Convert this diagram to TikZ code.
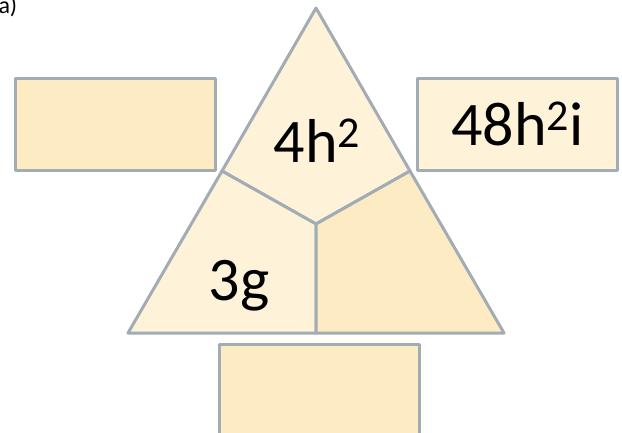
\documentclass[tikz,border=0pt]{standalone}
\usepackage{fontspec}
\setmainfont{Carlito}
\definecolor{edgegray}{HTML}{A2ACB4}
\definecolor{palefill}{HTML}{FEF2D8}
\definecolor{deepfill}{HTML}{FDEBC3}
\newcommand{\sqtwo}{\raisebox{15pt}{\fontsize{44}{44}\selectfont 2}}
\begin{document}
\begin{tikzpicture}[x=1pt, y=-1pt, line width=3pt, line join=round,
  box node/.style={rectangle,draw=edgegray,minimum width=200pt,minimum height=92pt,inner sep=0pt},
  sector/.style={draw=edgegray}]
\useasboundingbox (0,0) rectangle (622,432);
% triangle corners and inner points
\coordinate (top) at (316,8);
\coordinate (bl) at (128,333);
\coordinate (br) at (504,333);
\coordinate (ml) at (222,171);
\coordinate (mr) at (410,171);
\coordinate (mid) at (316,224);
\coordinate (mb) at (316,333);
\begin{scope}
\filldraw[sector,fill=palefill] (top) -- (mr) -- (mid) -- (ml) -- cycle;
\filldraw[sector,fill=palefill] (ml) -- (mid) -- (mb) -- (bl) -- cycle;
\filldraw[sector,fill=deepfill] (mr) -- (br) -- (mb) -- (mid) -- cycle;
\end{scope}
\begin{scope}[every node/.style={font=\fontsize{62}{70}\selectfont}]
\node[box node,fill=deepfill] (leftbox) at (115,124) {};
\node[box node,fill=palefill] (rightbox) at (517.5,124) {48h\sqtwo i};
\node[box node,fill=deepfill] (bottombox) at (319.5,390) {};
\node[anchor=base,inner sep=0pt] (topterm) at (317,162) {4h\sqtwo};
\node[anchor=base,inner sep=0pt] (leftterm) at (239,300) {3g};
\end{scope}
\node[anchor=base west,inner sep=0pt,font=\fontsize{24}{28}\selectfont] (label) at (-3,13) {a)};
\end{tikzpicture}
\end{document}
